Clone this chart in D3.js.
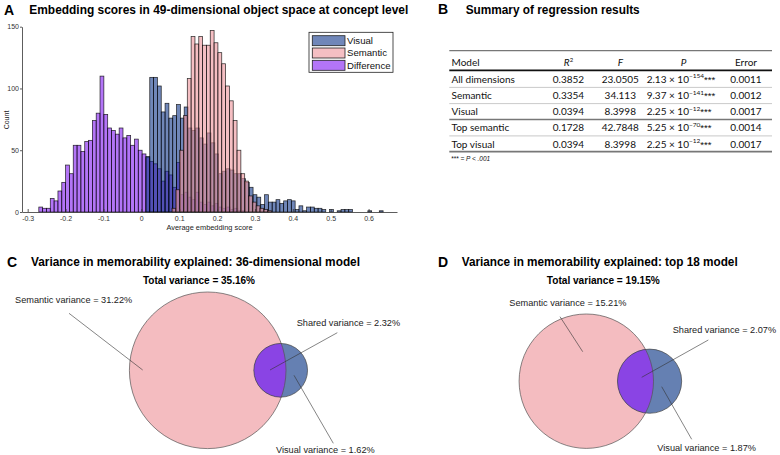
<!DOCTYPE html>
<html><head><meta charset="utf-8">
<script src="https://cdn.jsdelivr.net/npm/d3@7"></script>
<style>body{margin:0;background:#fff}svg{display:block}</style>
</head><body><svg id="c" width="780" height="455"></svg>
<script>
// ---------- Panel A data (histograms, bin width ~0.0101) ----------
const binWidth = 0.0101;
const visualStart = 0.0122;
const visualCounts = [45,109,109,102,81,88,76,78,87,76,85,68,66,68,60,55,64,56,47,31,33,35,34,31,31,27,24,20,14,12,6,14,8,8,10,7,9,10,9,2,5,1,4,4,3,3,2,0,2,0,1,2,2,2,0,0,0,0,1,0,0,1];
const semanticStart = 0.081;
const semanticCounts = [3,18,50,78,108,142,136,142,135,135,147,137,129,120,102,90,74,50,31,25,13,8,5,3,2,1];
const diffStart = -0.2706;
const diffCounts = [4,3,3,11,9,17,24,38,31,54,54,49,57,58,74,80,110,79,68,66,63,68,60,62,54,59,50,47,44,41,39,35,25,33,30,20,40,14,16,12,10,16,8,6,8,5,7,4,3,4,2,3,1,1];
const xTicks = [-0.3,-0.2,-0.1,0,0.1,0.2,0.3,0.4,0.5,0.6];
const yTicks = [0,50,100,150];
const legendLabels = ["Visual","Semantic","Difference"];

// ---------- Panel B data (table) ----------
const tableModels = ["All dimensions","Semantic","Visual","Top semantic","Top visual"];
const tableR2 = ["0.3852","0.3354","0.0394","0.1728","0.0394"];
const tableF = ["23.0505","34.113","8.3998","42.7848","8.3998"];
const tablePMant = ["2.13","9.37","2.25","5.25","2.25"];
const tablePExp = ["\u2212154","\u2212141","\u221212","\u221270","\u221212"];
const tableErr = ["0.0011","0.0012","0.0017","0.0014","0.0017"];

// ---------- Panels C/D data (variance, %) : semantic-only, shared, visual-only ----------
const vennLabels = ["Semantic variance","Shared variance","Visual variance"];
const vennC = [31.22, 2.32, 1.62];
const vennD = [15.21, 2.07, 1.87];
const totalVariance = [35.16, 19.15];

const svg = d3.select("#c");
const SANS = "'Liberation Sans', Arial, Helvetica, sans-serif";
svg.style("font-family", SANS);

function bold(x, y, txt, size, len, anchor){
  const t = svg.append("text").attr("x",x).attr("y",y).attr("font-weight","bold")
    .attr("font-size",size).attr("fill","#000").text(txt);
  if (anchor) t.attr("text-anchor",anchor);
  if (len) t.attr("textLength",len).attr("lengthAdjust","spacingAndGlyphs");
  return t;
}

// ===== Panel A =====
bold(4, 15, "A", 14);
bold(29.3, 13.8, "Embedding scores in 49-dimensional object space at concept level", 12, 379);

const x = d3.scaleLinear().domain([-0.315, 0.675]).range([22, 397]);
const y = d3.scaleLinear().domain([0, 150]).range([212, 26.7]);
const toBins = (start, counts) => counts.map((c,i)=>({x0:start+i*binWidth, x1:start+(i+1)*binWidth, n:c})).filter(d=>d.n>0);
const series = [
  {name:"Difference", bins:toBins(diffStart, diffCounts), color:"#8019f2"},
  {name:"Visual", bins:toBins(visualStart, visualCounts), color:"#11378a"},
  {name:"Semantic", bins:toBins(semanticStart, semanticCounts), color:"#ee959b"}
];
const gH = svg.append("g");
series.forEach(s=>{
  gH.append("g").selectAll("rect").data(s.bins).join("rect")
    .attr("x", d=>x(d.x0)).attr("width", d=>x(d.x1)-x(d.x0))
    .attr("y", d=>y(d.n)).attr("height", d=>y(0)-y(d.n))
    .attr("fill", s.color).attr("fill-opacity",0.6)
    .attr("stroke","#000").attr("stroke-opacity",0.8).attr("stroke-width",0.75);
});
const fmt = d => d===0 ? "0" : d3.format(".1f")(d).replace("\u2212","-");
const xa = svg.append("g").attr("transform","translate(0,212)")
  .call(d3.axisBottom(x).tickValues(xTicks).tickFormat(fmt).tickSize(-3).tickSizeOuter(0).tickPadding(4));
const ya = svg.append("g").attr("transform","translate(22,0)")
  .call(d3.axisLeft(y).tickValues(yTicks).tickSize(2).tickSizeOuter(0).tickPadding(1));
[xa,ya].forEach(a=>{
  a.selectAll("text").attr("font-size",7).attr("font-family",SANS).attr("fill","#333");
  a.selectAll("line,path").attr("stroke","#333").attr("stroke-width",0.8);
});
ya.selectAll("text").attr("dy","0.32em");
svg.append("text").attr("x",209.5).attr("y",230).attr("text-anchor","middle")
  .attr("font-size",7.4).attr("fill","#222").text("Average embedding score");
svg.append("text").attr("transform","translate(8.5,120) rotate(-90)").attr("text-anchor","middle")
  .attr("font-size",7).attr("fill","#222").text("Count");

// legend
const lg = svg.append("g");
lg.append("rect").attr("x",309).attr("y",32.3).attr("width",84).attr("height",40)
  .attr("fill","#fff").attr("stroke","#222").attr("stroke-width",0.8);
const legColors = {Visual:"#11378a", Semantic:"#ee959b", Difference:"#8019f2"};
legendLabels.forEach((lab,i)=>{
  const cy = 40.7 + i*12.3;
  lg.append("rect").attr("x",312.3).attr("y",cy-5).attr("width",32.7).attr("height",10)
    .attr("fill",legColors[lab]).attr("fill-opacity",0.6).attr("stroke","#222").attr("stroke-width",0.8);
  lg.append("text").attr("x",347).attr("y",cy+3.4).attr("font-size",9.6).attr("fill","#111").text(lab);
});

// ===== Panel B =====
bold(438, 13.5, "B", 14);
bold(465.7, 13.5, "Summary of regression results", 12, 174);
const TF = "Lato, 'Open Sans', sans-serif";
const tb = svg.append("g").style("font-family", TF).attr("font-size",10).attr("fill","#111");
const tx0 = 449.3, tx1 = 772;
const rule = (yy, c, w) => tb.append("line").attr("x1",tx0).attr("x2",tx1).attr("y1",yy).attr("y2",yy).attr("stroke",c).attr("stroke-width",w);
rule(50.7,"#777",1.3); rule(70.3,"#111",1.8);
rule(87.4,"#bbb",0.8); rule(103.6,"#bbb",0.8); rule(119.6,"#777",1.5); rule(135.9,"#bbb",0.8); rule(151.6,"#777",1.8);
const colModel = 451.5, colR2 = 568.5, colF = 620.3, colP = 646.7, colErr = 746;
const hb = 66.2;
tb.append("text").attr("x",colModel).attr("y",hb).text("Model");
const r2h = tb.append("text").attr("x",colR2).attr("y",hb).attr("text-anchor","middle");
r2h.append("tspan").attr("font-style","italic").text("R");
r2h.append("tspan").attr("dy",-4.5).attr("font-size",6).text("2");
tb.append("text").attr("x",colF).attr("y",hb).attr("text-anchor","middle").attr("font-style","italic").text("F");
tb.append("text").attr("x",683.5).attr("y",hb).attr("text-anchor","middle").attr("font-style","italic").text("P");
tb.append("text").attr("x",colErr).attr("y",hb).attr("text-anchor","middle").text("Error");
tableModels.forEach((m,i)=>{
  const by = 82.8 + i*16.2;
  tb.append("text").attr("x",colModel).attr("y",by).text(m);
  tb.append("text").attr("x",colR2).attr("y",by).attr("text-anchor","middle").text(tableR2[i]);
  tb.append("text").attr("x",colF).attr("y",by).attr("text-anchor","middle").text(tableF[i]);
  const pt = tb.append("text").attr("x",colP).attr("y",by);
  pt.append("tspan").text(tablePMant[i] + " \u00d7 10");
  pt.append("tspan").attr("dy",-4.5).attr("font-size",6.5).text(tablePExp[i]);
  pt.append("tspan").attr("dy",4.5).attr("font-size",9.5).attr("font-family",SANS).text("***");
  tb.append("text").attr("x",colErr).attr("y",by).attr("text-anchor","middle").text(tableErr[i]);
});
const fn = tb.append("text").attr("x",451).attr("y",161).attr("font-size",6.5).attr("font-style","italic").attr("font-family",SANS);
fn.text("*** = P < .001");

// ===== Panels C & D (Venn) =====
function lens(r1, r2, d){
  if (d >= r1 + r2) return 0;
  if (d <= Math.abs(r1 - r2)) return Math.PI * Math.min(r1,r2)**2;
  const a1 = Math.acos(Math.max(-1,Math.min(1,(d*d + r1*r1 - r2*r2)/(2*d*r1))));
  const a2 = Math.acos(Math.max(-1,Math.min(1,(d*d + r2*r2 - r1*r1)/(2*d*r2))));
  return r1*r1*a1 + r2*r2*a2 - 0.5*Math.sqrt((-d+r1+r2)*(d+r1-r2)*(d-r1+r2)*(d+r1+r2));
}
function venn(vals, cx, cy, R1){
  const semT = vals[0] + vals[1], visT = vals[2] + vals[1];
  const rs = d3.scaleSqrt().domain([0, semT]).range([0, R1]);
  const r1 = rs(semT), r2 = rs(visT);
  const target = vals[1] / visT * Math.PI * r2 * r2;
  let lo = r1 - r2, hi = r1 + r2;
  for (let k=0;k<80;k++){ const m=(lo+hi)/2; if (lens(r1,r2,m) > target) lo = m; else hi = m; }
  const d = (lo+hi)/2;
  const xi = (d*d - r2*r2 + r1*r1)/(2*d), h = Math.sqrt(r1*r1 - xi*xi);
  const g = svg.append("g");
  g.append("circle").attr("cx",cx).attr("cy",cy).attr("r",r1).attr("fill","#f4bcc0");
  g.append("circle").attr("cx",cx+d).attr("cy",cy).attr("r",r2).attr("fill","#6580b2");
  const p1 = [cx+xi, cy-h], p2 = [cx+xi, cy+h];
  const large = xi > d ? 1 : 0;
  g.append("path").attr("d",`M${p1[0]},${p1[1]} A${r1},${r1} 0 0 1 ${p2[0]},${p2[1]} A${r2},${r2} 0 ${large} 1 ${p1[0]},${p1[1]} Z`)
    .attr("fill","#8a44e4");
  g.append("circle").attr("cx",cx).attr("cy",cy).attr("r",r1).attr("fill","none").attr("stroke","#555").attr("stroke-width",0.7);
  g.append("circle").attr("cx",cx+d).attr("cy",cy).attr("r",r2).attr("fill","none").attr("stroke","#444").attr("stroke-width",0.7);
  return g;
}
function label(x0, yb, txt, line){
  svg.append("text").attr("x",x0).attr("y",yb).attr("font-size",9.2).attr("fill","#222").text(txt);
  svg.append("line").attr("x1",line[0]).attr("y1",line[1]).attr("x2",line[2]).attr("y2",line[3])
    .attr("stroke","#333").attr("stroke-width",0.6);
}
const pct = v => d3.format(".2f")(v) + "%";

// C
bold(7, 266.7, "C", 14);
bold(31, 266.2, "Variance in memorability explained: 36-dimensional model", 12, 329);
bold(199, 284, "Total variance = " + pct(totalVariance[0]), 10, 112, "middle");
venn(vennC, 207.7, 370.3, 78.3);
label(15, 303.3, vennLabels[0] + " = " + pct(vennC[0]), [69,313.3,142.7,370]);
label(296.7, 326, vennLabels[1] + " = " + pct(vennC[1]), [337.3,332.7,270,370]);
label(276, 453.3, vennLabels[2] + " = " + pct(vennC[2]), [294,375.3,333.3,443.3]);

// D
bold(438, 266.7, "D", 14);
bold(461.7, 266.2, "Variance in memorability explained: top 18 model", 12, 276);
bold(603.3, 284, "Total variance = " + pct(totalVariance[1]), 10, 113, "middle");
venn(vennD, 586.3, 381.2, 67.2);
label(509.3, 306, vennLabels[0] + " = " + pct(vennD[0]), [560,316.7,582.7,351.7]);
label(672.7, 333.3, vennLabels[1] + " = " + pct(vennD[1]), [708.3,340,641.7,377.3]);
label(657.3, 450.6, vennLabels[2] + " = " + pct(vennD[2]), [661.7,386.7,691.7,439.3]);
</script></body></html>
